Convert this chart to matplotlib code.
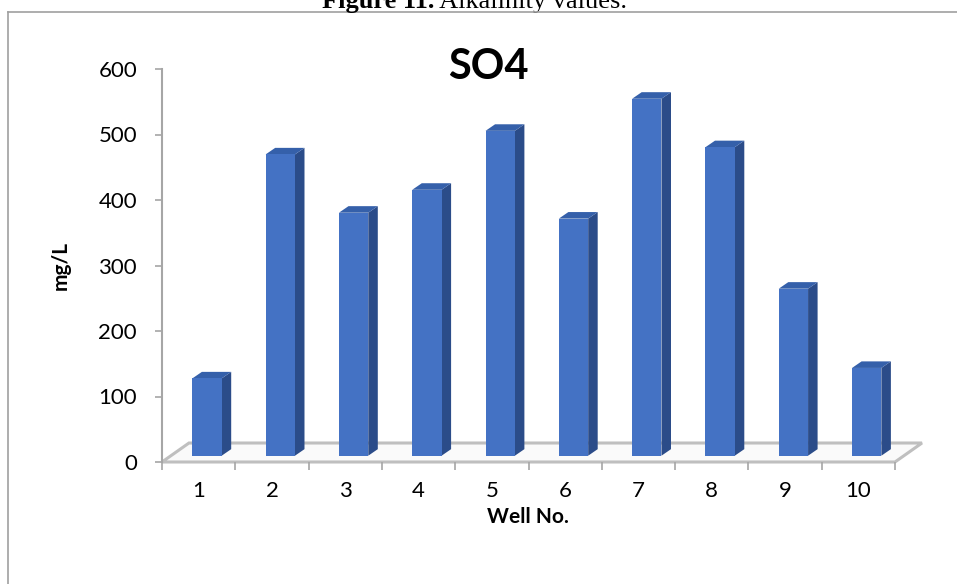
import numpy as np
import matplotlib.pyplot as plt
from matplotlib.patches import Polygon

# SO4 per well (mg/L)
wells = ['1', '2', '3', '4', '5', '6', '7', '8', '9', '10']
so4 = [118, 460, 371, 406, 496, 362, 545, 471, 255, 134]

front_col = '#4472C4'
side_col = '#2B4C89'
top_col = '#3560AA'
grey = '#BFBFBF'

plt.rcParams['font.family'] = ['Lato', 'DejaVu Sans']

W, H = 957, 584
fig = plt.figure(figsize=(W / 100, H / 100), dpi=100)
ax = fig.add_axes([162 / W, 122 / H, 733 / W, 393 / H])
ax.set_xlim(0.5, len(wells) + 0.5)
ax.set_ylim(0, 600)

# pseudo 3D offsets (data units)
floor_dx, floor_dy = 0.368, 29.0
bar_shift_x, bar_base = 0.114, 9.6
depth_dx, depth_dy = 0.13, 10.0
bw = 0.40

n = len(wells)
floor = Polygon([(0.5, 0), (n + 0.5, 0), (n + 0.5 + floor_dx, floor_dy), (0.5 + floor_dx, floor_dy)],
                closed=True, facecolor='#FAFAFA', edgecolor=grey, lw=2.2, clip_on=False, zorder=1)
ax.add_patch(floor)

for i, v in enumerate(so4):
    x0 = i + 1 + bar_shift_x - bw / 2
    x1 = x0 + bw
    yb = bar_base
    yt = bar_base + v
    side = Polygon([(x1, yb), (x1 + depth_dx, yb + depth_dy), (x1 + depth_dx, yt + depth_dy), (x1, yt)],
                   closed=True, facecolor=side_col, edgecolor='none', clip_on=False, zorder=3)
    top = Polygon([(x0, yt), (x1, yt), (x1 + depth_dx, yt + depth_dy), (x0 + depth_dx, yt + depth_dy)],
                  closed=True, facecolor=top_col, edgecolor='none', clip_on=False, zorder=3)
    front = Polygon([(x0, yb), (x1, yb), (x1, yt), (x0, yt)],
                    closed=True, facecolor=front_col, edgecolor='none', clip_on=False, zorder=4)
    ax.add_patch(side)
    ax.add_patch(top)
    ax.add_patch(front)

for s in ['top', 'right', 'bottom']:
    ax.spines[s].set_visible(False)
ax.spines['left'].set_color('#A6A6A6')
ax.spines['left'].set_linewidth(1.5)

ax.set_yticks(np.arange(0, 601, 100))
ax.tick_params(axis='y', length=5, width=1.2, color='#A6A6A6', pad=13, labelsize=16)
ax.set_xticks(np.arange(1, n + 1))
ax.set_xticklabels(wells)
ax.set_xticks(np.arange(0.5, n + 1), minor=True)
ax.tick_params(axis='x', which='major', length=0, pad=14, labelsize=16)
ax.tick_params(axis='x', which='minor', length=6, width=1.2, color='#A6A6A6')

ax.set_ylabel('mg/L', fontsize=15, fontweight='bold', labelpad=20)
fig.text(528 / W, 1 - 517 / H, 'Well No.', fontsize=15, fontweight='bold', ha='center', va='center')

fig.text(488 / W, 1 - 79 / H, 'SO4', fontsize=30, fontweight='bold', ha='center', va='baseline')

# chart area border
fig.add_artist(plt.Line2D([8 / W, 1], [1 - 12 / H, 1 - 12 / H], color='#A0A0A0', lw=1.2))
fig.add_artist(plt.Line2D([8 / W, 8 / W], [0, 1 - 12 / H], color='#A0A0A0', lw=1.2))

# caption, cut off at the top like the source
cap1 = fig.text(322 / W, 1 - 8 / H, 'Figure 11.', fontsize=19, fontweight='bold',
                family='Liberation Serif', ha='left', va='baseline')
ax.annotate(' Alkalinity values.', xy=(1, 0), xycoords=cap1, fontsize=19,
            family='Liberation Serif', ha='left', va='bottom', annotation_clip=False)

fig.savefig('out.png', dpi=100)
